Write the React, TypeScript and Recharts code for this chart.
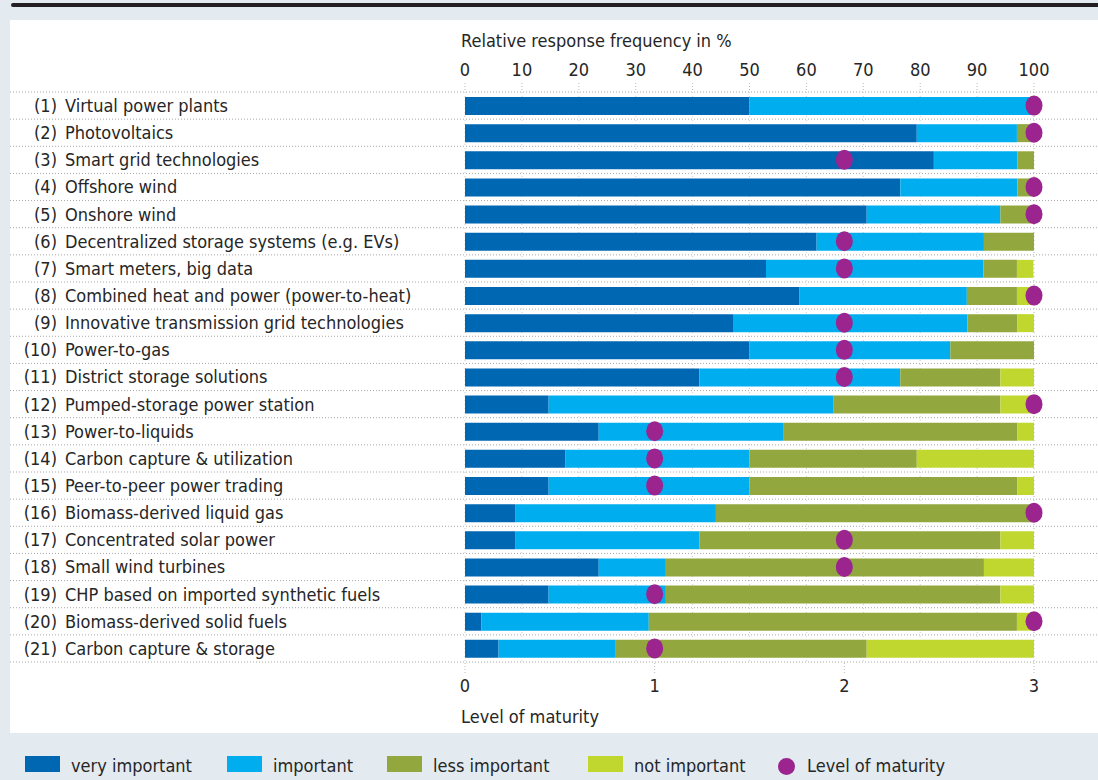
import React from "react";
import { ComposedChart, Bar, Line, XAxis, YAxis, CartesianGrid } from "recharts";

// survey answers, share of respondents in %
const categories = [
  "Virtual power plants",
  "Photovoltaics",
  "Smart grid technologies",
  "Offshore wind",
  "Onshore wind",
  "Decentralized storage systems (e.g. EVs)",
  "Smart meters, big data",
  "Combined heat and power (power-to-heat)",
  "Innovative transmission grid technologies",
  "Power-to-gas",
  "District storage solutions",
  "Pumped-storage power station",
  "Power-to-liquids",
  "Carbon capture & utilization",
  "Peer-to-peer power trading",
  "Biomass-derived liquid gas",
  "Concentrated solar power",
  "Small wind turbines",
  "CHP based on imported synthetic fuels",
  "Biomass-derived solid fuels",
  "Carbon capture & storage",
];

const veryImportant = [50, 79.4, 82.4, 76.5, 70.6, 61.8, 52.9, 58.8, 47.1, 50, 41.2, 14.7, 23.5, 17.6, 14.7, 8.8, 8.8, 23.5, 14.7, 2.9, 5.9];
const important = [50, 17.6, 14.7, 20.6, 23.5, 29.4, 38.2, 29.4, 41.2, 35.3, 35.3, 50, 32.4, 32.4, 35.3, 35.3, 32.4, 11.8, 20.6, 29.4, 20.6];
const lessImportant = [0, 2.9, 2.9, 2.9, 5.9, 8.8, 5.9, 8.8, 8.8, 14.7, 17.6, 29.4, 41.2, 29.4, 47.1, 55.9, 52.9, 55.9, 58.8, 64.7, 44.1];
const notImportant = [0, 0, 0, 0, 0, 0, 2.9, 2.9, 2.9, 0, 5.9, 5.9, 2.9, 20.6, 2.9, 0, 5.9, 8.8, 5.9, 2.9, 29.4];
const maturity = [3, 3, 2, 3, 3, 2, 2, 3, 2, 2, 2, 3, 1, 1, 1, 3, 2, 2, 1, 3, 1];

const pctTicks = [0, 10, 20, 30, 40, 50, 60, 70, 80, 90, 100];
const maturityTicks = [0, 1, 2, 3];

const data = categories.map((name, i) => ({
  name,
  veryImportant: veryImportant[i],
  important: important[i],
  lessImportant: lessImportant[i],
  notImportant: notImportant[i],
  maturity: maturity[i],
}));

const FONT = "'Liberation Sans Narrow', 'DejaVu Sans Condensed', sans-serif";
const FS = 18;
const TEXT = "#262626";
const COLORS = {
  veryImportant: "#0067b3",
  important: "#00aeef",
  lessImportant: "#92a73e",
  notImportant: "#c0d72f",
  maturity: "#9b248f",
};

const CHART_W = 1088;
const CHART_H = 713;
const TOP_H = 72;
const BOTTOM_H = 71;
const BAND = (CHART_H - TOP_H - BOTTOM_H) / categories.length;

const CategoryTick = (props: any) => {
  const { y, payload } = props;
  const i = categories.indexOf(payload.value);
  const half = BAND / 2;
  return (
    <g>
      <line x1={0} x2={CHART_W} y1={y - half} y2={y - half} stroke="#a8a8a8" strokeDasharray="1 2" />
      {i === categories.length - 1 && (
        <line x1={0} x2={CHART_W} y1={y + half} y2={y + half} stroke="#a8a8a8" strokeDasharray="1 2" />
      )}
      <text x={47} y={y} dy="0.36em" textAnchor="end" fill={TEXT} fontSize={FS} fontFamily={FONT}>
        ({i + 1})
      </text>
      <text x={55} y={y} dy="0.36em" textAnchor="start" fill={TEXT} fontSize={FS} fontFamily={FONT}>
        {payload.value}
      </text>
    </g>
  );
};

const MaturityDot = (props: any) => {
  const { cx, cy, index } = props;
  if (cx == null || cy == null) return null;
  return <ellipse key={index} cx={cx} cy={cy} rx={8.5} ry={10} fill={COLORS.maturity} />;
};

const legendItems = [
  { label: "very important", color: COLORS.veryImportant, x: 25, dot: false },
  { label: "important", color: COLORS.important, x: 227, dot: false },
  { label: "less important", color: COLORS.lessImportant, x: 387, dot: false },
  { label: "not important", color: COLORS.notImportant, x: 588, dot: false },
  { label: "Level of maturity", color: COLORS.maturity, x: 778, dot: true },
];

const textStyle: React.CSSProperties = {
  position: "absolute",
  fontFamily: FONT,
  fontSize: FS,
  lineHeight: "20px",
  color: TEXT,
  whiteSpace: "nowrap",
};

export default function App() {
  const tickStyle = { fill: TEXT, fontSize: FS, fontFamily: FONT };
  return (
    <div style={{ position: "absolute", left: 0, top: 0, width: 1098, height: 780, background: "#e3ebf1", overflow: "hidden" }}>
      <div style={{ position: "absolute", left: 11, top: 3, width: 1090, height: 4, background: "#231f20", borderRadius: 2 }} />
      <div style={{ position: "absolute", left: 10, top: 20, width: CHART_W, height: CHART_H, background: "#fff" }}>
        <ComposedChart
          width={CHART_W}
          height={CHART_H}
          data={data}
          layout="vertical"
          margin={{ top: 0, right: 64, bottom: 0, left: 0 }}
          barCategoryGap={0}
        >
          <CartesianGrid xAxisId="pct" horizontal={false} stroke="#cfcfcf" strokeDasharray="1 3" />
          <XAxis
            xAxisId="pct"
            type="number"
            orientation="top"
            domain={[0, 100]}
            ticks={pctTicks}
            height={TOP_H}
            axisLine={false}
            tickSize={9}
            tickMargin={7}
            tickLine={{ stroke: "#b8b8b8", strokeDasharray: "1 2" }}
            tick={tickStyle}
            interval={0}
          />
          <XAxis
            xAxisId="mat"
            type="number"
            orientation="bottom"
            domain={[0, 3]}
            ticks={maturityTicks}
            height={BOTTOM_H}
            axisLine={false}
            tickSize={11}
            tickMargin={6}
            tickLine={{ stroke: "#b8b8b8", strokeDasharray: "1 2" }}
            tick={tickStyle}
            interval={0}
          />
          <YAxis
            type="category"
            dataKey="name"
            width={455}
            axisLine={false}
            tickLine={false}
            interval={0}
            tick={<CategoryTick />}
          />
          <Bar xAxisId="pct" dataKey="veryImportant" stackId="a" fill={COLORS.veryImportant} barSize={18} isAnimationActive={false} />
          <Bar xAxisId="pct" dataKey="important" stackId="a" fill={COLORS.important} barSize={18} isAnimationActive={false} />
          <Bar xAxisId="pct" dataKey="lessImportant" stackId="a" fill={COLORS.lessImportant} barSize={18} isAnimationActive={false} />
          <Bar xAxisId="pct" dataKey="notImportant" stackId="a" fill={COLORS.notImportant} barSize={18} isAnimationActive={false} />
          <Line
            xAxisId="mat"
            dataKey="maturity"
            stroke="none"
            dot={<MaturityDot />}
            activeDot={false}
            isAnimationActive={false}
          />
        </ComposedChart>
        <div style={{ ...textStyle, left: 451, top: 11 }}>Relative response frequency in %</div>
        <div style={{ ...textStyle, left: 451, top: 687 }}>Level of maturity</div>
      </div>
      {legendItems.map((item) => (
        <div key={item.label}>
          {item.dot ? (
            <div style={{ position: "absolute", left: item.x, top: 758, width: 17, height: 17, borderRadius: "50%", background: item.color }} />
          ) : (
            <div style={{ position: "absolute", left: item.x, top: 756, width: 35, height: 16, background: item.color }} />
          )}
          <div style={{ ...textStyle, left: item.x + (item.dot ? 29 : 46), top: 756 }}>{item.label}</div>
        </div>
      ))}
    </div>
  );
}
